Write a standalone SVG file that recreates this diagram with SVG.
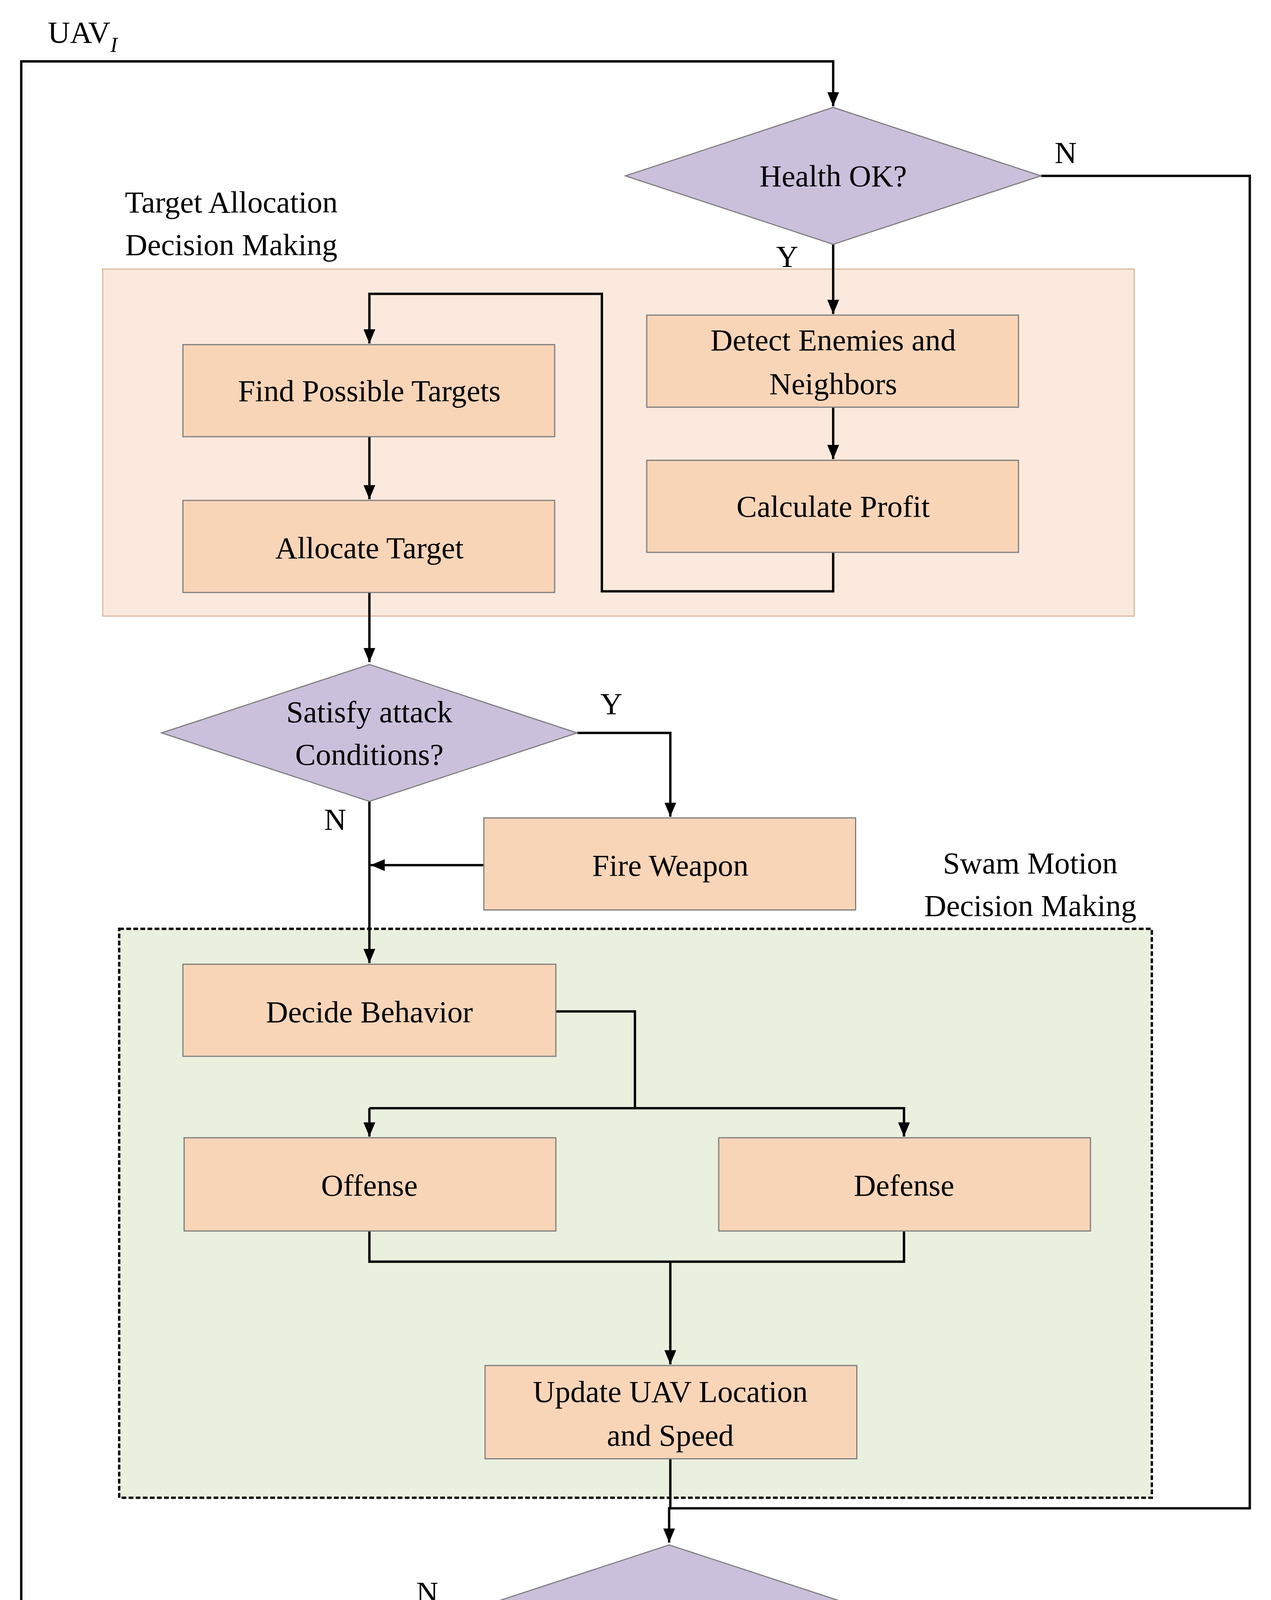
<svg xmlns="http://www.w3.org/2000/svg" width="3254" height="4743" viewBox="0 0 3254 4743">
<defs>
<marker id="ah" markerUnits="userSpaceOnUse" markerWidth="12" markerHeight="10" refX="12" refY="5" orient="auto"><path d="M0,0 L12,5 L0,10 z" fill="#000"/></marker>
<style>
text{font-family:"Liberation Serif","Times New Roman",serif;font-size:26px;fill:#000;text-anchor:middle}
.box{fill:#f9d5b8;stroke:#7f7f7f;stroke-width:1}
.dia{fill:#cbc0dc;stroke:#808080;stroke-width:1}
.c{fill:none;stroke:#000;stroke-width:2}
.a{marker-end:url(#ah)}
</style>
</defs>
<rect width="3254" height="4743" fill="#fff"/>
<g transform="scale(3.0214)">
<g id="groupTA"><rect x="87" y="228" width="874" height="294" fill="#fbe9dd" stroke="#d9b8a0" stroke-width="1"/>
<text x="196" y="180">Target Allocation</text><text x="196" y="216">Decision Making</text></g>
<g id="groupSM"><rect x="101" y="787" width="875" height="482" fill="#eaf0de" stroke="#000" stroke-width="2" stroke-dasharray="4,2"/>
<text x="873" y="740">Swam Motion</text><text x="873" y="776">Decision Making</text></g>
<g id="connectors">
<path class="c a" d="M390,1367 H18 V52 H706 V90"/>
<path class="c a" d="M882,149 H1059 V1278 H567 V1307"/>
<path class="c a" d="M706,207 V266"/>
<path class="c a" d="M706,345 V389"/>
<path class="c a" d="M313,370 V423"/>
<path class="c a" d="M706,468 V501 H510 V249 H313 V291"/>
<path class="c a" d="M313,502 V561"/>
<path class="c a" d="M489,621 H568 V692"/>
<path class="c a" d="M313,679 V816"/>
<path class="c a" d="M410,733 H314"/>
<path class="c" d="M471,857 H538 V939"/>
<path class="c a" d="M313,939 V963"/>
<path class="c a" d="M313,939 H766 V963"/>
<path class="c" d="M313,1043 V1069 H766 V1043"/>
<path class="c a" d="M568,1069 V1156"/>
<path class="c" d="M568,1236 V1278"/>
<path class="c a" d="M567,1425 V1474"/>
<text x="70" y="36">UAV<tspan font-style="italic" font-size="18" dy="8">I</tspan></text>
<text x="903" y="138">N</text><text x="667" y="226">Y</text>
<text x="518" y="605">Y</text><text x="284" y="703">N</text>
<text x="362" y="1358">N</text><text x="549" y="1460">Y</text>
</g>
<g id="health"><polygon class="dia" points="530,149 706,91 882,149 706,207"/><text x="706" y="158">Health OK?</text></g>
<g id="detect"><rect class="box" x="548" y="267" width="315" height="78"/><text x="706" y="297">Detect Enemies and</text><text x="706" y="334">Neighbors</text></g>
<g id="calc"><rect class="box" x="548" y="390" width="315" height="78"/><text x="706" y="438">Calculate Profit</text></g>
<g id="find"><rect class="box" x="155" y="292" width="315" height="78"/><text x="313" y="340">Find Possible Targets</text></g>
<g id="alloc"><rect class="box" x="155" y="424" width="315" height="78"/><text x="313" y="473">Allocate Target</text></g>
<g id="satisfy"><polygon class="dia" points="137,621 313,563 489,621 313,679"/><text x="313" y="612">Satisfy attack</text><text x="313" y="648">Conditions?</text></g>
<g id="fire"><rect class="box" x="410" y="693" width="315" height="78"/><text x="568" y="742">Fire Weapon</text></g>
<g id="decide"><rect class="box" x="155" y="817" width="316" height="78"/><text x="313" y="866">Decide Behavior</text></g>
<g id="offense"><rect class="box" x="156" y="964" width="315" height="79"/><text x="313" y="1013">Offense</text></g>
<g id="defense"><rect class="box" x="609" y="964" width="315" height="79"/><text x="766" y="1013">Defense</text></g>
<g id="update"><rect class="box" x="411" y="1157" width="315" height="79"/><text x="568" y="1188">Update UAV Location</text><text x="568" y="1225">and Speed</text></g>
<g id="combat"><polygon class="dia" points="390,1367 567,1309 744,1367 567,1425"/><text x="567" y="1376">Combat end?</text></g>
<g id="end"><rect class="box" x="409" y="1475" width="315" height="78"/><text x="567" y="1524">End</text></g>
</g>
</svg>
